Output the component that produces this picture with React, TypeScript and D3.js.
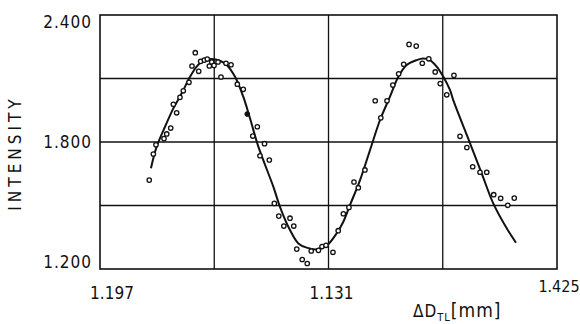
import * as d3 from 'd3';

// measured points (x in grid units along the scan, y = intensity)
const pointX = [
  0.431, 0.467, 0.49, 0.56, 0.584, 0.619, 0.671, 0.642, 0.7, 0.729, 0.779, 0.805, 0.834, 0.864, 0.881,
  0.913, 0.939, 0.957, 0.978, 0.998, 1.033, 1.059, 1.103, 1.147, 1.202, 1.254, 1.377, 1.337, 1.44,
  1.4, 1.482, 1.526, 1.565, 1.663, 1.609, 1.696, 1.722, 1.77, 1.814, 1.849, 1.912, 1.943, 1.978,
  2.039, 2.085, 2.13, 2.179, 2.223, 2.261, 2.319, 2.409, 2.458, 2.512, 2.563, 2.614, 2.658, 2.705,
  2.768, 2.821, 2.878, 2.934, 2.978, 3.035, 3.098, 3.151, 3.211, 3.262, 3.326, 3.385, 3.446, 3.507,
  3.569, 3.626,
];
const pointY = [
  1.62, 1.743, 1.787, 1.816, 1.838, 1.866, 1.938, 1.978, 2.011, 2.042, 2.082, 2.159, 2.222, 2.134, 2.181,
  2.187, 2.192, 2.159, 2.178, 2.162, 2.178, 2.107, 2.172, 2.165, 2.073, 2.049, 1.872, 1.828, 1.792,
  1.735, 1.715, 1.51, 1.45, 1.44, 1.403, 1.403, 1.294, 1.245, 1.226, 1.285, 1.288, 1.306, 1.312,
  1.279, 1.381, 1.461, 1.491, 1.611, 1.584, 1.668, 1.995, 1.914, 1.995, 2.069, 2.122, 2.167, 2.261,
  2.253, 2.172, 2.193, 2.131, 2.076, 2.023, 2.115, 1.827, 1.774, 1.683, 1.657, 1.657, 1.551, 1.534,
  1.501, 1.535,
];
const filledX = [1.289];
const filledY = [1.932];

// fitted curve
const curveX = [
  0.446, 0.496, 0.569, 0.642, 0.715, 0.788, 0.846, 0.904, 0.978, 1.05, 1.109, 1.182, 1.254, 1.313,
  1.386, 1.517, 1.575, 1.663, 1.736, 1.809, 1.897, 1.989, 2.072, 2.13, 2.188, 2.276, 2.378, 2.451,
  2.538, 2.611, 2.684, 2.772, 2.83, 2.888, 2.947, 3.005, 3.063, 3.092, 3.239, 3.341, 3.442, 3.56, 3.641,
];
const curveY = [
  1.676, 1.778, 1.872, 1.959, 2.03, 2.108, 2.156, 2.184, 2.192, 2.184, 2.164, 2.108, 2.014, 1.912,
  1.778, 1.589, 1.494, 1.384, 1.321, 1.301, 1.293, 1.313, 1.369, 1.423, 1.502, 1.62, 1.786, 1.904,
  2.014, 2.108, 2.164, 2.187, 2.194, 2.187, 2.156, 2.108, 2.046, 1.998, 1.794, 1.652, 1.51, 1.392, 1.324,
];

const xGrid = [1, 2, 3];
const yGrid = [1.5, 1.8, 2.1];
const xTicks = [0, 2, 4];
const xTickLabels = ['1.197', '1.131', '1.425'];
const yTicks = [1.2, 1.8, 2.4];
const yTickLabels = ['1.200', '1.800', '2.400'];

const W = 580;
const H = 324;
const FONT = '"DejaVu Sans Condensed", "DejaVu Sans", sans-serif';

export default function App() {
  const x = d3.scaleLinear().domain([0, 4]).range([100, 557]);
  const y = d3.scaleLinear().domain([1.2, 2.4]).range([269, 15]);

  const curvePts: [number, number][] = curveX.map((v, i) => [v, curveY[i]]);
  const line = d3
    .line<[number, number]>()
    .x((d) => x(d[0]))
    .y((d) => y(d[1]))
    .curve(d3.curveCatmullRom.alpha(0.5));

  // label nudges like the original lettering
  const xLabelDx = [12, 3, 2];
  const xLabelDy = [299, 299, 292];

  return (
    <svg
      width={W}
      height={H}
      style={{ position: 'absolute', left: 0, top: 0, background: '#fff' }}
      fontFamily={FONT}
    >
      <rect x={0} y={0} width={W} height={H} fill="#fff" />

      {xGrid.map((g) => (
        <line key={'vx' + g} x1={x(g)} x2={x(g)} y1={y(1.2)} y2={y(2.4)} stroke="#111" strokeWidth={1.3} />
      ))}
      {yGrid.map((g) => (
        <line key={'hy' + g} x1={x(0)} x2={x(4)} y1={y(g)} y2={y(g)} stroke="#111" strokeWidth={1.3} />
      ))}
      <rect
        x={x(0)}
        y={y(2.4)}
        width={x(4) - x(0)}
        height={y(1.2) - y(2.4)}
        fill="none"
        stroke="#111"
        strokeWidth={1.6}
      />

      <path d={line(curvePts) || ''} fill="none" stroke="#111" strokeWidth={2} />

      {pointX.map((v, i) => (
        <circle key={'p' + i} cx={x(v)} cy={y(pointY[i])} r={2.2} fill="#fff" stroke="#111" strokeWidth={1.3} />
      ))}
      {filledX.map((v, i) => (
        <circle key={'f' + i} cx={x(v)} cy={y(filledY[i])} r={2.4} fill="#111" stroke="#111" strokeWidth={1} />
      ))}

      {yTicks.map((t, i) => {
        const off = i === 0 ? -1 : i === yTicks.length - 1 ? 13 : 6;
        return (
          <text key={'yt' + t} x={92} y={y(t) + off} textAnchor="end" fontSize={17} fill="#111" letterSpacing={1}>
            {yTickLabels[i]}
          </text>
        );
      })}

      {xTicks.map((t, i) => (
        <text
          key={'xt' + t}
          x={x(t) + xLabelDx[i]}
          y={xLabelDy[i]}
          textAnchor="middle"
          fontSize={i === xTicks.length - 1 ? 16 : 17}
          fill="#111"
        >
          {xTickLabels[i]}
        </text>
      ))}

      <text
        transform="translate(21,153) rotate(-90)"
        textAnchor="middle"
        fontSize={17}
        fill="#111"
        letterSpacing={4}
      >
        INTENSITY
      </text>

      <text x={413} y={317} fontSize={17} fill="#111" letterSpacing={1}>
        ΔD
        <tspan fontSize={11} dy={4}>TL</tspan>
        <tspan fontSize={19} dy={-4}>[mm]</tspan>
      </text>
    </svg>
  );
}
